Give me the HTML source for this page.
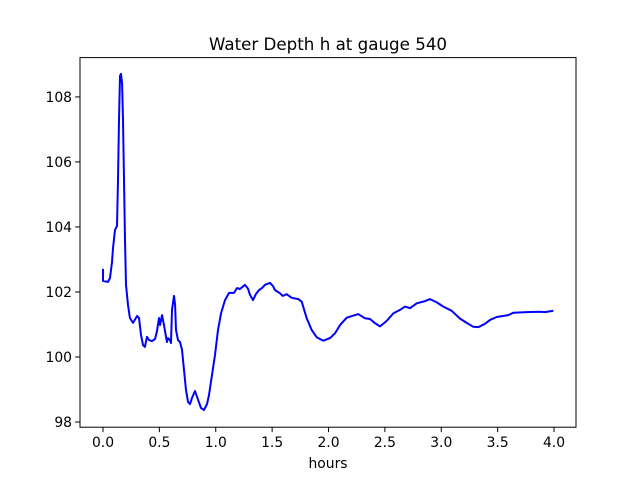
<!DOCTYPE html>
<html><head><meta charset="utf-8"><style>
body{margin:0;background:#fff}
svg{display:block;font-family:"DejaVu Sans","Liberation Sans",sans-serif}
</style></head><body>
<svg id="chart" width="640" height="480" viewBox="0 0 640 480">
<rect width="640" height="480" fill="#fff"/>
<text x="328" y="50" font-size="16.7" text-anchor="middle">Water Depth h at gauge 540</text>
<g id="xt"></g>
<g id="yt"></g>
<path id="line" fill="none" stroke="#0000ff" stroke-width="2" stroke-linejoin="round"/>
<rect x="80" y="57.6" width="496" height="369.6" fill="none" stroke="#000" stroke-width="1"/>
<text x="328" y="468" font-size="13.9" text-anchor="middle">hours</text>
</svg>
<script>
const xTicks=[0,0.5,1,1.5,2,2.5,3,3.5,4];
const xTickLabels=["0.0","0.5","1.0","1.5","2.0","2.5","3.0","3.5","4.0"];
const yTicks=[98,100,102,104,106,108];
const yTickLabels=["98","100","102","104","106","108"];
const hours=[0,0,0.044,0.062,0.08,0.089,0.106,0.115,0.124,0.133,0.142,0.151,0.16,0.169,0.177,0.186,0.195,0.204,0.222,0.239,0.266,0.302,0.319,0.337,0.355,0.372,0.39,0.408,0.435,0.461,0.479,0.497,0.506,0.523,0.541,0.559,0.568,0.576,0.594,0.603,0.612,0.63,0.639,0.647,0.665,0.683,0.701,0.718,0.736,0.754,0.772,0.789,0.816,0.843,0.869,0.896,0.922,0.94,0.967,0.993,1.02,1.047,1.082,1.118,1.162,1.188,1.215,1.259,1.286,1.304,1.33,1.357,1.384,1.41,1.437,1.481,1.508,1.525,1.57,1.594,1.629,1.674,1.732,1.762,1.807,1.851,1.895,1.954,2.013,2.058,2.102,2.161,2.264,2.324,2.368,2.412,2.457,2.516,2.575,2.634,2.678,2.723,2.782,2.856,2.9,2.96,3.018,3.093,3.166,3.226,3.284,3.329,3.388,3.432,3.492,3.595,3.639,3.758,3.876,3.92,3.994];
const depth=[102.71,102.34,102.31,102.43,102.92,103.35,103.91,103.97,104.03,105.45,107.29,108.65,108.71,108.4,107.29,105.45,103.6,102.22,101.6,101.2,101.05,101.26,101.2,100.68,100.37,100.31,100.62,100.52,100.49,100.55,100.8,101.2,100.98,101.29,100.98,100.62,100.46,100.58,100.52,100.43,101.45,101.88,101.6,100.83,100.52,100.46,100.22,99.6,98.98,98.62,98.55,98.74,98.95,98.68,98.43,98.37,98.55,98.83,99.45,100.06,100.83,101.35,101.75,101.97,101.97,102.12,102.09,102.22,102.1,101.91,101.75,101.94,102.06,102.12,102.22,102.28,102.18,102.06,101.96,101.88,101.93,101.82,101.78,101.7,101.19,100.83,100.61,100.5,100.58,100.73,100.98,101.21,101.32,101.19,101.17,101.04,100.94,101.11,101.34,101.45,101.55,101.5,101.65,101.72,101.78,101.68,101.55,101.42,101.18,101.05,100.93,100.92,101.02,101.14,101.23,101.29,101.36,101.38,101.39,101.38,101.42];
const L=80,R=576,T=57.6,B=427.2,xmin=-0.204,xmax=4.195,ymin=97.84,ymax=109.21;
const sx=v=>L+(v-xmin)/(xmax-xmin)*(R-L);
const sy=v=>B-(v-ymin)/(ymax-ymin)*(B-T);
const NS="http://www.w3.org/2000/svg";
const xt=document.getElementById('xt'),yt=document.getElementById('yt');
xTicks.forEach((v,i)=>{
 const l=document.createElementNS(NS,'line');
 l.setAttribute('x1',sx(v));l.setAttribute('x2',sx(v));l.setAttribute('y1',B);l.setAttribute('y2',B+4.9);l.setAttribute('stroke','#000');
 
 
 xt.appendChild(l);
 const t=document.createElementNS(NS,'text');
 t.setAttribute('x',sx(v));t.setAttribute('y',B+20);t.setAttribute('font-size','13.9');t.setAttribute('text-anchor','middle');
 t.textContent=xTickLabels[i];
 
 
 xt.appendChild(t);
});
yTicks.forEach((v,i)=>{
 const l=document.createElementNS(NS,'line');
 l.setAttribute('x1',L-4.9);l.setAttribute('x2',L);l.setAttribute('y1',sy(v));l.setAttribute('y2',sy(v));l.setAttribute('stroke','#000');
 
 
 yt.appendChild(l);
 const t=document.createElementNS(NS,'text');
 t.setAttribute('x',L-8);t.setAttribute('y',sy(v)+5);t.setAttribute('font-size','13.9');t.setAttribute('text-anchor','end');
 t.textContent=yTickLabels[i];
 
 
 yt.appendChild(t);
});
document.getElementById('line').setAttribute('d',hours.map((h,i)=>(i?'L':'M')+sx(h).toFixed(1)+','+sy(depth[i]).toFixed(1)).join(''));
</script>
</body></html>
